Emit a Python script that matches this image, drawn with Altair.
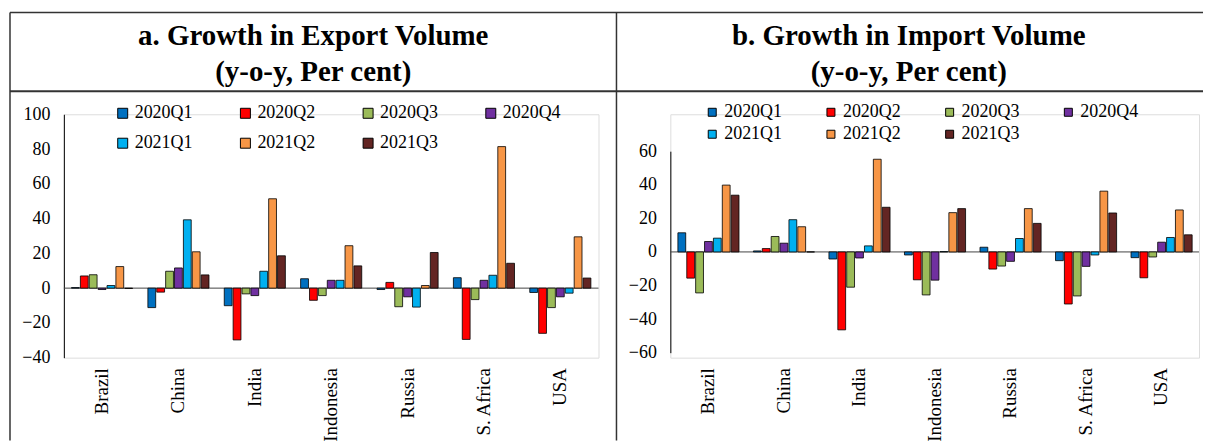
import altair as alt
import pandas as pd

COUNTRIES = ["Brazil", "China", "India", "Indonesia", "Russia", "S. Africa", "USA"]
QUARTERS = ["2020Q1", "2020Q2", "2020Q3", "2020Q4", "2021Q1", "2021Q2", "2021Q3"]
COLORS = ["#0070C0", "#FF0000", "#9BBB59", "#7030A0", "#00B0F0", "#F79646", "#632523"]

# a. Export volume growth (y-o-y, %), one list per quarter, countries in COUNTRIES order
EXP_2020Q1 = [0.3, -11.2, -10.1, 5.4, -0.8, 6.0, -2.5]
EXP_2020Q2 = [7.0, -2.3, -29.8, -7.0, 3.3, -29.5, -26.0]
EXP_2020Q3 = [7.7, 9.7, -3.3, -4.3, -10.7, -6.6, -11.2]
EXP_2020Q4 = [-0.8, 11.6, -4.3, 4.5, -5.0, 4.5, -5.0]
EXP_2021Q1 = [1.5, 39.3, 9.7, 4.5, -10.9, 7.4, -2.9]
EXP_2021Q2 = [12.4, 20.9, 51.4, 24.4, 1.5, 81.4, 29.5]
EXP_2021Q3 = [-0.2, 7.6, 18.6, 12.8, 20.5, 14.3, 5.8]

# b. Import volume growth (y-o-y, %)
IMP_2020Q1 = [11.4, 0.6, -4.2, -1.8, 2.8, -5.2, -3.4]
IMP_2020Q2 = [-15.6, 2.0, -46.4, -16.6, -10.2, -31.0, -15.4]
IMP_2020Q3 = [-24.4, 9.2, -21.0, -25.6, -8.4, -26.2, -3.0]
IMP_2020Q4 = [6.2, 5.2, -3.6, -16.8, -5.6, -8.6, 5.8]
IMP_2021Q1 = [8.2, 19.2, 3.6, 0.2, 8.0, -1.8, 8.6]
IMP_2021Q2 = [39.8, 15.0, 55.2, 23.4, 25.8, 36.2, 25.0]
IMP_2021Q3 = [33.8, 0.0, 26.6, 25.8, 17.0, 23.2, 10.2]

EXP_TICKS = [-40, -20, 0, 20, 40, 60, 80, 100]
IMP_TICKS = [-60, -40, -20, 0, 20, 40, 60]

TITLE_A = ["a. Growth in Export Volume", "(y-o-y, Per cent)"]
TITLE_B = ["b. Growth in Import Volume", "(y-o-y, Per cent)"]

FONT = "Liberation Serif"
H = 244


def to_long(series):
    rows = []
    for q, vals in zip(QUARTERS, series):
        for c, v in zip(COUNTRIES, vals):
            rows.append({"country": c, "quarter": q, "value": v})
    return pd.DataFrame(rows)


exp_df = to_long([EXP_2020Q1, EXP_2020Q2, EXP_2020Q3, EXP_2020Q4, EXP_2021Q1, EXP_2021Q2, EXP_2021Q3])
imp_df = to_long([IMP_2020Q1, IMP_2020Q2, IMP_2020Q3, IMP_2020Q4, IMP_2021Q1, IMP_2021Q2, IMP_2021Q3])


def panel(df, ticks, yrange, W, titles, title_x, lx, ly, sym, col_pad, row_pad, frame=False):
    yscale_kw = dict(domain=[ticks[0], ticks[-1]], nice=False, zero=False)
    if yrange is not None:
        yscale_kw["range"] = yrange
    yscale = alt.Scale(**yscale_kw)
    yaxis = alt.Axis(title=None, values=ticks, grid=False, ticks=False, domainColor="black",
                     domainWidth=1, labelFont=FONT, labelFontSize=18, labelColor="black",
                     labelPadding=14, labelOverlap=False)

    color = alt.Color(
        "quarter:N",
        sort=QUARTERS,
        scale=alt.Scale(domain=QUARTERS, range=COLORS),
        legend=alt.Legend(
            title=None, orient="none", legendX=lx, legendY=ly, columns=4,
            direction="horizontal",
            symbolType="square", symbolSize=sym, symbolStrokeColor="black",
            symbolStrokeWidth=1, symbolOpacity=1,
            labelFont=FONT, labelFontSize=18, labelColor="black", labelOffset=3,
            columnPadding=col_pad, rowPadding=row_pad, padding=0,
        ),
    )

    zero_df = pd.DataFrame({"value": [0]})
    zero = alt.Chart(zero_df).mark_rule(color="#444444", strokeWidth=1).encode(
        y=alt.Y("value:Q", scale=yscale, axis=yaxis),
        x=alt.value(0), x2=alt.value(W),
    )

    bars = alt.Chart(df).mark_bar(stroke="black", strokeWidth=0.8).encode(
        x=alt.X(
            "country:N", sort=COUNTRIES,
            scale=alt.Scale(paddingInner=0.2, paddingOuter=0.1),
            axis=alt.Axis(title=None, labelAngle=270, labelAlign="right", labelBaseline="middle",
                          labelPadding=10, domain=False, ticks=False, labelFont=FONT,
                          labelFontSize=19, labelColor="black"),
        ),
        xOffset=alt.XOffset("quarter:N", sort=QUARTERS, scale=alt.Scale(paddingInner=0.12)),
        y=alt.Y("value:Q", scale=yscale, axis=yaxis),
        color=color,
    )

    tdf = pd.DataFrame({"t": [titles[0]]})
    tdf2 = pd.DataFrame({"t": [titles[1]]})
    t1 = alt.Chart(tdf).mark_text(font=FONT, fontSize=29, fontWeight="bold", color="black",
                                  align="center", baseline="alphabetic").encode(
        text="t:N", x=alt.value(title_x), y=alt.value(-69))
    t2 = alt.Chart(tdf2).mark_text(font=FONT, fontSize=29, fontWeight="bold", color="black",
                                   align="center", baseline="alphabetic").encode(
        text="t:N", x=alt.value(title_x), y=alt.value(-33))

    layers = [zero, bars, t1, t2]

    if frame:
        fdf = pd.DataFrame({"f": [0]})
        fc = "#333333"
        top = alt.Chart(fdf).mark_rule(color=fc, strokeWidth=1.5).encode(
            x=alt.value(-54), x2=alt.value(1142), y=alt.value(-102))
        sep = alt.Chart(fdf).mark_rule(color=fc, strokeWidth=2).encode(
            x=alt.value(-54), x2=alt.value(1142), y=alt.value(-23))
        left = alt.Chart(fdf).mark_rule(color=fc, strokeWidth=1.5).encode(
            x=alt.value(-54), y=alt.value(-102), y2=alt.value(327))
        div = alt.Chart(fdf).mark_rule(color=fc, strokeWidth=1.5).encode(
            x=alt.value(554), y=alt.value(-102), y2=alt.value(327))
        layers += [top, sep, left, div]

    return alt.layer(*layers).properties(width=W, height=H)


left = panel(exp_df, EXP_TICKS, None, 536, TITLE_A, 250, 50, -10, 100, 44, 12, frame=True)
right = panel(imp_df, IMP_TICKS, [239, 37], 530, TITLE_B, 239, 33, -11, 64, 40, 4)

chart = alt.hconcat(left, right, spacing=72, bounds="flush").resolve_scale(
    color="independent", x="independent", y="independent"
).resolve_legend(color="independent").properties(
    padding={"left": 0, "top": 2, "right": 0, "bottom": 0},
    background="white",
).configure_view(strokeWidth=0).configure(font=FONT)

chart.save("out.html", embed_options={"renderer": "svg", "actions": False})
